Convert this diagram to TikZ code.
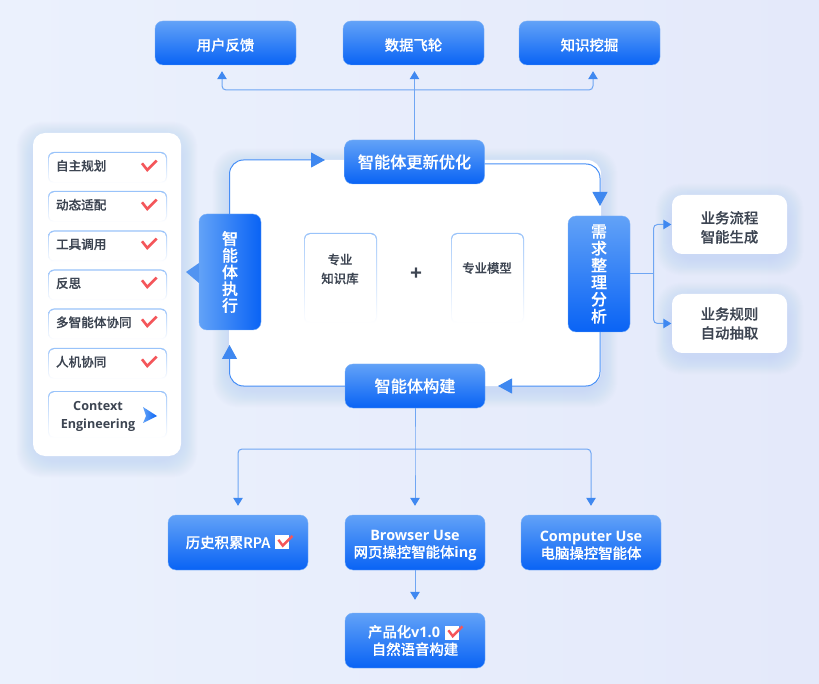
\documentclass[tikz,border=0pt]{standalone}
\usepackage{fontspec}
\usepackage{tikz}
\usetikzlibrary{arrows.meta}
\setmainfont{Noto Sans CJK SC}[BoldFont=* Medium, BoldFeatures={FakeBold=0.25}]
\newfontfamily\latinfont{Open Sans}
\newfontfamily\plusfont{Open Sans}

\definecolor{boxtop}{HTML}{62A2F7}
\definecolor{boxbot}{HTML}{0963F5}
\definecolor{linkblue}{HTML}{6FA6F3}
\definecolor{tipblue}{HTML}{3F88F0}
\definecolor{inkdark}{HTML}{3D4552}
\definecolor{tickred}{HTML}{F4565A}
\definecolor{glowblue}{HTML}{A9C2F5}
\definecolor{pageleft}{HTML}{EBF1FD}
\definecolor{pageright}{HTML}{E4E9FA}

\newcommand{\softglow}[4]{%
  \foreach \g in {1,...,18} {
    \fill[glowblue, opacity=.022, rounded corners=24pt]
      (#1-\g*.9,#2-\g*.9+5) rectangle (#3+\g*.9,#4+\g*.9+5);
  }
}

\tikzset{
  bluebox/.style={shade, top color=boxtop, bottom color=boxbot, draw=boxtop!85, line width=.4pt,
    rounded corners=8pt, text=white, align=center, inner sep=0pt, font=\bfseries\fontsize{14.4}{17.5}\selectfont},
  sidebox/.style={bluebox, left color=boxtop, right color=boxbot, minimum width=62pt, minimum height=116pt,
    font=\bfseries\fontsize{16}{16.7}\selectfont},
  downbox/.style={bluebox, minimum width=62pt, minimum height=116pt, font=\bfseries\fontsize{16}{17}\selectfont},
  topbox/.style={bluebox, minimum width=141pt, minimum height=44pt},
  loopbox/.style={topbox, font=\bfseries\fontsize{16.2}{18}\selectfont},
  lowbox/.style={bluebox, minimum width=140pt, minimum height=55pt},
  whitebox/.style={fill=white, rounded corners=10pt, minimum width=115pt, minimum height=59pt, text=inkdark,
    align=center, inner sep=0pt, font=\bfseries\fontsize{14.4}{19}\selectfont},
  fadecard/.style={top color=boxtop!65, bottom color=white, rounded corners=6pt, inner sep=0pt, text=inkdark,
    path picture={\fill[white, rounded corners=5.2pt]
      ([shift={(.9pt,.9pt)}]path picture bounding box.south west) rectangle
      ([shift={(-.9pt,-1.2pt)}]path picture bounding box.north east);}},
  listcard/.style={fadecard, minimum width=119pt, minimum height=31pt, text width=103pt, align=left, text depth=4.5pt,
    font=\bfseries\fontsize{12.6}{17}\selectfont},
  knowcard/.style={fadecard, minimum width=73pt, minimum height=90pt, align=center,
    font=\bfseries\fontsize{12.4}{19}\selectfont},
  looplink/.style={draw=boxtop!70!boxbot, line width=1pt, rounded corners=14pt, -{Triangle[length=14pt,width=15pt,color=tipblue]}},
  thinlink/.style={draw=linkblue, line width=1pt, rounded corners=4pt, -{Triangle[length=8pt,width=9.5pt,color=tipblue]}},
  plainlink/.style={draw=linkblue, line width=1pt, rounded corners=4pt},
  listtick/.pic={\draw[tickred, line width=2.6pt, line join=miter] (-7.3,-2) -- (-2,4.7) -- (7.3,-4.7);},
  boxtick/.pic={\fill[white] (-7,-7) rectangle (7,7);
    \draw[tickred, line width=2.4pt] (-3.6,-2.2) -- (.7,3.6) -- (10.5,-6.2);}
}

\begin{document}
\begin{tikzpicture}[x=1pt, y=-1pt]
  \useasboundingbox (0,0) rectangle (819,684);
  \shade[left color=pageleft, right color=pageright] (0,0) rectangle (819,684);

  % soft shadows
  \softglow{33}{133}{181}{456}
  \softglow{229}{160}{601}{386}
  \softglow{672}{195}{787}{254}
  \softglow{672}{294}{787}{353}

  % main panel
  \node (panel) [fill=white, rounded corners=14pt, minimum width=372pt, minimum height=226pt, inner sep=0pt] at (415,273) {};

  % top row
  \node (feedback) [topbox, text height=15pt, text depth=0pt] at (225.5,43) {用户反馈};
  \node (flywheel) [topbox, text height=15pt, text depth=0pt] at (413.5,43) {数据飞轮};
  \node (mining) [topbox, text height=15pt, text depth=0pt] at (589.5,43) {知识挖掘};

  % loop
  \node (update) [loopbox, minimum width=140pt] at (414.5,162) {智能体更新优化};
  \node (build) [loopbox, minimum width=140pt] at (415,386) {智能体构建};
  \node (execute) [sidebox] at (230,272) {智\\能\\体\\执\\行};
  \node (analyse) [downbox] at (599,274) {需\\求\\整\\理\\分\\析};

  \coordinate (toupdate) at (325,160);
  \coordinate (toanalyse) at (600,206);
  \coordinate (tobuild) at (498,386);
  \coordinate (toexecute) at (229.5,345);
  \draw[looplink] (execute.north -| toexecute) |- (toupdate);
  \draw[looplink] ([yshift=-2pt]update.east) -| (toanalyse);
  \draw[looplink] (analyse.south -| toanalyse) |- (tobuild);
  \draw[looplink] (build.west) -| (toexecute);
  \fill[tipblue!90!white] (199,263) -- (186,272) -- (199,283) -- cycle;

  % inner cards
  \node (knowledge) [knowcard] at (340.5,278) {};
  \node (knowtext) [text=inkdark, align=center, font=\bfseries\fontsize{12.4}{19}\selectfont] at (340,269) {专业\\知识库};
  \node (model) [knowcard] at (487.5,278) {};
  \node (modeltext) [text=inkdark, font=\bfseries\fontsize{12.4}{19}\selectfont] at (487,268) {专业模型};
  \node (plus) [text=inkdark, font=\plusfont\bfseries\fontsize{21}{21}\selectfont] at (416,274) {+};

  % left list
  \node (listpanel) [fill=white, rounded corners=12pt, minimum width=148pt, minimum height=323pt] at (107,294.5) {};
  \node (plan) [listcard] at (107.5,167.5) {自主规划};
  \node (adapt) [listcard] at (107.5,206.5) {动态适配};
  \node (tools) [listcard] at (107.5,246) {工具调用};
  \node (reflect) [listcard] at (107.5,285) {反思};
  \node (multi) [listcard] at (107.5,324) {多智能体协同};
  \node (human) [listcard] at (107.5,363.5) {人机协同};
  \node (context) [listcard, minimum height=47pt] at (107.5,414.5) {};
  \node (contexttext) [text=inkdark, align=center, font=\latinfont\bfseries\fontsize{12.6}{18}\selectfont] at (98,416.5) {Context\\Engineering};
  \pic at (149.3,165.3) {listtick};
  \pic at (149.3,204.3) {listtick};
  \pic at (149.3,243.3) {listtick};
  \pic at (149.3,282.3) {listtick};
  \pic at (149.3,321.3) {listtick};
  \pic at (149.3,361.3) {listtick};
  \shade[left color=boxtop, right color=boxbot] (143,407) -- (157,416) -- (143,423) -- (146,416) -- cycle;

  % right boxes
  \node (flow) [whitebox] at (729.5,224.5) {\rule{0pt}{18pt}业务流程\\智能生成};
  \node (rules) [whitebox] at (729.5,323.5) {业务规则\\自动抽取};
  \coordinate (rightfork) at (653.5,274);
  \draw[plainlink] (analyse.east) -- (rightfork);
  \draw[thinlink, shorten >=.5pt] (rightfork) |- (flow.west);
  \draw[thinlink, shorten >=.5pt] (rightfork) |- (rules.west);

  % top links
  \coordinate (topfork) at (414.5,90);
  \draw[thinlink, shorten >=6pt] (update.north) -- (topfork) -- (topfork |- flywheel.south);
  \draw[thinlink, shorten >=6pt] (topfork) -| ([xshift=-3.5pt]feedback.south);
  \draw[thinlink, shorten >=6pt] (topfork) -| ([xshift=3.5pt]mining.south);

  % bottom row
  \node (rpa) [lowbox] at (238,542.5) {历史积累RPA\hspace*{20pt}};
  \node (browser) [lowbox] at (415,542.5) {\rule{0pt}{16pt}{\latinfont Browser Use}\\网页操控智能体{\latinfont ing}};
  \node (computer) [lowbox] at (591,542.5) {\rule{0pt}{16pt}{\latinfont Computer Use}\\电脑操控智能体};
  \node (product) [lowbox] at (415,640.5) {产品化{\latinfont v1.0}\hspace*{22pt}\\自然语音构建};
  \pic at (282,542) {boxtick};
  \pic at (452,632.5) {boxtick};

  \coordinate (lowfork) at (415,449);
  \draw[thinlink, shorten >=9pt] (build.south) -- (lowfork) -- (browser.north);
  \draw[thinlink, shorten >=9pt] (lowfork) -| (rpa.north);
  \draw[thinlink, shorten >=9pt] (lowfork) -| (computer.north);
  \draw[thinlink, shorten >=13pt] (browser.south) -- (product.north);
\end{tikzpicture}
\end{document}
